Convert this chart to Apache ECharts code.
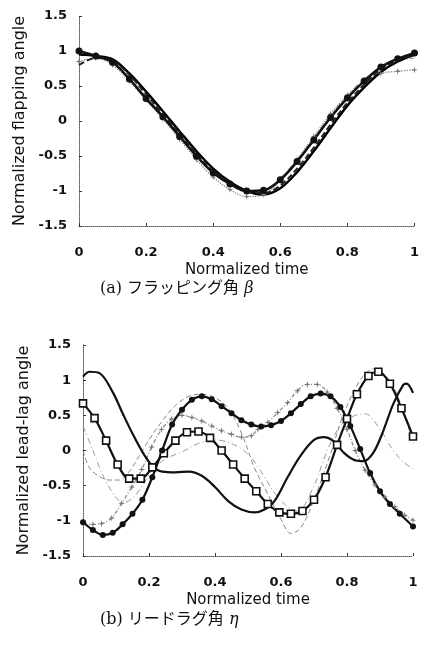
<!DOCTYPE html>
<html>
<head>
<meta charset="utf-8">
<script src="https://cdn.jsdelivr.net/npm/echarts@6/dist/echarts.min.js"></script>
<style>
html, body { margin: 0; padding: 0; background: #fff; }
#chart { width: 422px; height: 648px; }
</style>
</head>
<body>
<div id="chart"></div>
<script>
// axis ticks
const timeTicks = [0, 0.2, 0.4, 0.6, 0.8, 1];
const angleTicks = [-1.5, -1, -0.5, 0, 0.5, 1, 1.5];

// (a) flapping angle, sampled every 0.05
const flapTime = [0, 0.05, 0.1, 0.15, 0.2, 0.25, 0.3, 0.35, 0.4, 0.45, 0.5, 0.55, 0.6, 0.65, 0.7, 0.75, 0.8, 0.85, 0.9, 0.95, 1];
const flapCircle = [1.0, 0.93, 0.84, 0.6, 0.32, 0.06, -0.22, -0.5, -0.74, -0.9, -1.0, -0.99, -0.84, -0.58, -0.27, 0.05, 0.33, 0.57, 0.77, 0.89, 0.97];
const flapSolid = [0.95, 0.93, 0.88, 0.68, 0.42, 0.14, -0.15, -0.43, -0.68, -0.87, -1.0, -1.05, -0.96, -0.73, -0.43, -0.1, 0.22, 0.48, 0.7, 0.85, 0.95];
const flapDashed = [0.8, 0.9, 0.86, 0.66, 0.38, 0.1, -0.18, -0.46, -0.71, -0.89, -1.01, -1.03, -0.92, -0.68, -0.38, -0.05, 0.26, 0.52, 0.74, 0.87, 0.95];
const flapStar = [0.85, 0.9, 0.8, 0.57, 0.3, 0.03, -0.26, -0.55, -0.8, -0.98, -1.08, -1.05, -0.85, -0.55, -0.22, 0.1, 0.37, 0.56, 0.68, 0.71, 0.73];
const flapDashDot = [0.95, 0.92, 0.83, 0.62, 0.35, 0.08, -0.2, -0.48, -0.72, -0.9, -1.02, -1.0, -0.82, -0.55, -0.24, 0.08, 0.36, 0.6, 0.76, 0.86, 0.9];

// (b) lead-lag angle
const lagSolidTime = [0, 0.02, 0.05, 0.09, 0.12, 0.15, 0.18, 0.21, 0.24, 0.28, 0.32, 0.36, 0.4, 0.44, 0.48, 0.52, 0.55, 0.58, 0.62, 0.66, 0.7, 0.73, 0.76, 0.79, 0.82, 0.85, 0.88, 0.91, 0.94, 0.97, 0.98, 1];
const lagSolid = [1.05, 1.12, 1.1, 0.83, 0.53, 0.24, -0.02, -0.22, -0.3, -0.31, -0.3, -0.36, -0.52, -0.72, -0.84, -0.88, -0.84, -0.72, -0.38, -0.07, 0.15, 0.19, 0.13, -0.03, -0.13, -0.15, -0.03, 0.28, 0.66, 0.93, 0.95, 0.82];

const lagCircleTime = [0, 0.03, 0.06, 0.09, 0.12, 0.15, 0.18, 0.21, 0.24, 0.27, 0.3, 0.33, 0.36, 0.39, 0.42, 0.45, 0.48, 0.51, 0.54, 0.57, 0.6, 0.63, 0.66, 0.69, 0.72, 0.75, 0.78, 0.81, 0.84, 0.87, 0.9, 0.93, 0.96, 1];
const lagCircle = [-1.02, -1.13, -1.2, -1.17, -1.05, -0.9, -0.7, -0.38, 0.0, 0.37, 0.58, 0.72, 0.77, 0.73, 0.63, 0.53, 0.43, 0.37, 0.34, 0.36, 0.42, 0.53, 0.66, 0.77, 0.81, 0.77, 0.62, 0.35, 0.02, -0.32, -0.58, -0.76, -0.9, -1.08];

const lagSquareTime = [0, 0.035, 0.07, 0.105, 0.14, 0.175, 0.21, 0.245, 0.28, 0.315, 0.35, 0.385, 0.42, 0.455, 0.49, 0.525, 0.56, 0.595, 0.63, 0.665, 0.7, 0.735, 0.77, 0.8, 0.83, 0.865, 0.895, 0.93, 0.965, 1];
const lagSquare = [0.67, 0.46, 0.14, -0.2, -0.4, -0.4, -0.24, -0.04, 0.14, 0.26, 0.27, 0.18, 0.0, -0.2, -0.4, -0.58, -0.76, -0.88, -0.9, -0.86, -0.7, -0.38, 0.08, 0.45, 0.8, 1.06, 1.12, 0.95, 0.6, 0.2];

const lagStarTime = [0, 0.03, 0.056, 0.087, 0.117, 0.148, 0.178, 0.208, 0.238, 0.269, 0.3, 0.33, 0.36, 0.39, 0.42, 0.45, 0.48, 0.51, 0.53, 0.56, 0.59, 0.62, 0.65, 0.68, 0.71, 0.74, 0.77, 0.8, 0.825, 0.855, 0.885, 0.915, 0.945, 0.975, 1];
const lagStar = [-1.02, -1.05, -1.04, -0.96, -0.75, -0.52, -0.27, 0.05, 0.3, 0.45, 0.5, 0.47, 0.42, 0.35, 0.28, 0.23, 0.19, 0.21, 0.3, 0.4, 0.54, 0.68, 0.85, 0.94, 0.94, 0.83, 0.6, 0.3, 0.0, -0.28, -0.49, -0.66, -0.8, -0.92, -0.99];

const lagDashDotTime = [0, 0.03, 0.06, 0.09, 0.12, 0.15, 0.18, 0.21, 0.25, 0.3, 0.35, 0.4, 0.45, 0.5, 0.54, 0.58, 0.62, 0.65, 0.7, 0.74, 0.78, 0.82, 0.855, 0.9, 0.94, 0.97, 1];
const lagDashDot = [0.35, 0.0, -0.35, -0.6, -0.74, -0.68, -0.5, -0.28, -0.12, -0.02, 0.1, 0.15, 0.1, -0.05, -0.3, -0.6, -0.8, -0.86, -0.5, 0.0, 0.35, 0.49, 0.52, 0.3, 0.0, -0.16, -0.26];

const lagDashTime = [0, 0.02, 0.05, 0.08, 0.11, 0.14, 0.17, 0.2, 0.24, 0.28, 0.32, 0.36, 0.4, 0.44, 0.48, 0.52, 0.56, 0.6, 0.63, 0.66, 0.7, 0.75, 0.79, 0.84, 0.88, 0.92, 0.96, 1];
const lagDash = [0.0, -0.25, -0.37, -0.42, -0.42, -0.3, -0.08, 0.15, 0.42, 0.64, 0.77, 0.8, 0.75, 0.6, 0.25, -0.25, -0.62, -0.98, -1.18, -1.1, -0.7, -0.05, 0.52, 1.0, 1.16, 1.05, 0.7, 0.1];

const starPath = 'path://M0,-6L1.2,-1.2L6,0L1.2,1.2L0,6L-1.2,1.2L-6,0L-1.2,-1.2Z';

function pairs(xs, ys) {
  return xs.map((x, i) => [x, ys[i]]);
}

const labelStyle = { fontFamily: 'DejaVu Sans', fontWeight: 'bold', fontSize: 13, color: '#111' };

function makeX(gridIndex) {
  return {
    gridIndex: gridIndex,
    type: 'value',
    min: timeTicks[0],
    max: timeTicks[timeTicks.length - 1],
    interval: 0.2,
    name: 'Normalized time',
    nameLocation: 'middle',
    nameGap: 37,
    nameTextStyle: { fontFamily: 'DejaVu Sans', fontSize: 15, color: '#111' },
    axisLine: { onZero: false, lineStyle: { color: '#555', type: 'dotted', width: 1 } },
    axisTick: { inside: true, length: 3, lineStyle: { color: '#333' } },
    splitLine: { show: false },
    axisLabel: Object.assign({ margin: 20 }, labelStyle)
  };
}

function makeY(gridIndex, name) {
  return {
    gridIndex: gridIndex,
    type: 'value',
    min: angleTicks[0],
    max: angleTicks[angleTicks.length - 1],
    interval: 0.5,
    name: name,
    nameLocation: 'middle',
    nameGap: 46,
    nameTextStyle: { fontFamily: 'DejaVu Sans', fontSize: 16, color: '#111' },
    axisLine: { show: true, onZero: false, lineStyle: { color: '#555', type: 'dotted', width: 1 } },
    axisTick: { show: true, inside: true, length: 3, lineStyle: { color: '#333' } },
    splitLine: { show: false },
    axisLabel: Object.assign({ margin: 12 }, labelStyle)
  };
}

function line(idx, data, opts) {
  return Object.assign({
    type: 'line',
    xAxisIndex: idx,
    yAxisIndex: idx,
    data: data,
    smooth: 0.35,
    symbol: 'none',
    lineStyle: { color: '#111', width: 2.2 }
  }, opts);
}

const captionRich = {
  n: { fontFamily: '"DejaVu Serif", "Noto Sans CJK JP"', fontSize: 16, fill: '#111' },
  i: { fontFamily: 'DejaVu Serif', fontStyle: 'italic', fontSize: 16, fill: '#111' }
};

const chart = echarts.init(document.getElementById('chart'));
chart.setOption({
  animation: false,
  backgroundColor: '#fff',
  grid: [
    { left: 79, right: 7, top: 16, height: 210 },
    { left: 83, right: 9, top: 345, height: 211 }
  ],
  xAxis: [makeX(0), makeX(1)],
  yAxis: [makeY(0, 'Normalized flapping angle'), makeY(1, 'Normalized lead-lag angle')],
  graphic: [
    { type: 'text', left: 100, top: 281, style: { text: '{n|(a) フラッピング角 }{i|β}', rich: captionRich } },
    { type: 'text', left: 100, top: 612, style: { text: '{n|(b) リードラグ角 }{i|η}', rich: captionRich } }
  ],
  series: [
    // (a)
    line(0, pairs(flapTime, flapDashDot), { lineStyle: { color: '#999', width: 1.2, type: [6, 3, 1, 3] } }),
    line(0, pairs(flapTime, flapStar), {
      lineStyle: { color: '#888', width: 1.3, type: 'dotted' },
      symbol: starPath, symbolSize: 7, itemStyle: { color: '#777' }
    }),
    line(0, pairs(flapTime, flapSolid), { lineStyle: { color: '#000', width: 2.5 } }),
    line(0, pairs(flapTime, flapDashed), { lineStyle: { color: '#222', width: 2, type: [6, 3] } }),
    line(0, pairs(flapTime, flapCircle), {
      lineStyle: { color: '#111', width: 2.5 },
      symbol: 'circle', symbolSize: 7, itemStyle: { color: '#111' }
    }),
    // (b)
    line(1, pairs(lagDashTime, lagDash), { lineStyle: { color: '#888', width: 1, type: [5, 3] } }),
    line(1, pairs(lagDashDotTime, lagDashDot), { lineStyle: { color: '#999', width: 1, type: [6, 3, 1, 3] } }),
    line(1, pairs(lagStarTime, lagStar), {
      lineStyle: { color: '#888', width: 1.2, type: [4, 2, 1, 2] },
      symbol: starPath, symbolSize: 7, itemStyle: { color: '#777' }
    }),
    line(1, pairs(lagSolidTime, lagSolid), { lineStyle: { color: '#111', width: 2.2 } }),
    line(1, pairs(lagSquareTime, lagSquare), {
      lineStyle: { color: '#111', width: 2.2 },
      symbol: 'rect', symbolSize: 7,
      itemStyle: { color: '#fff', borderColor: '#111', borderWidth: 1.6 }
    }),
    line(1, pairs(lagCircleTime, lagCircle), {
      lineStyle: { color: '#111', width: 2.2 },
      symbol: 'circle', symbolSize: 6, itemStyle: { color: '#111' }
    })
  ]
});
</script>
</body>
</html>
